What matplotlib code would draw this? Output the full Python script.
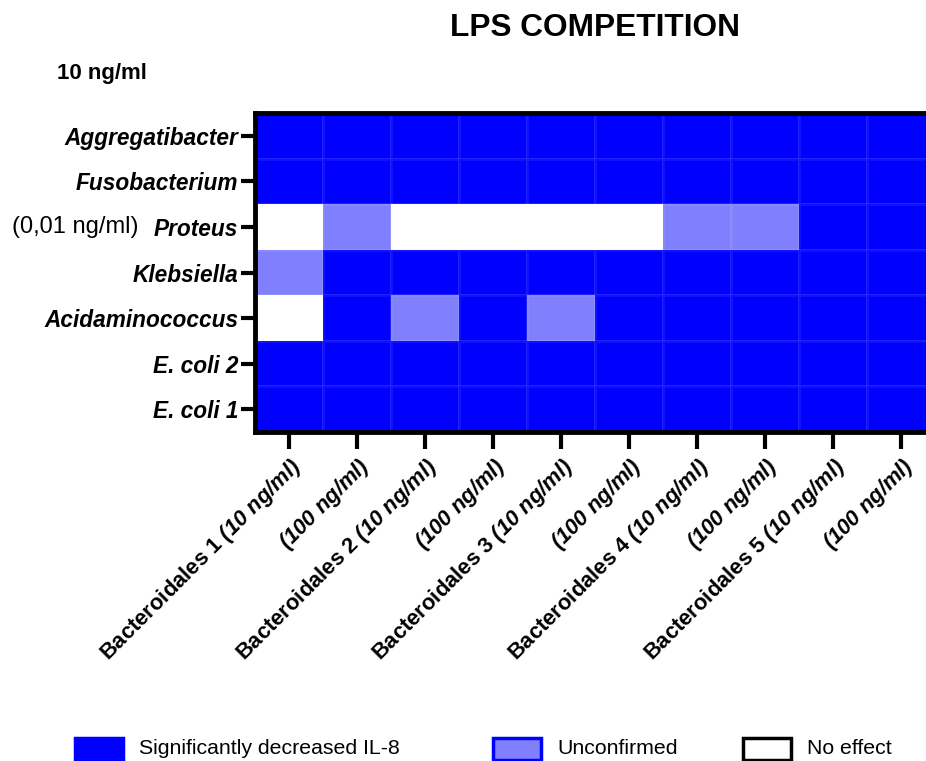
import matplotlib.pyplot as plt
import numpy as np
from matplotlib.colors import ListedColormap
from matplotlib.patches import Rectangle
from matplotlib.transforms import blended_transform_factory

plt.rcParams['font.family'] = ['Liberation Sans', 'DejaVu Sans']
plt.rcParams['mathtext.fontset'] = 'custom'
plt.rcParams['mathtext.bfit'] = 'Liberation Sans:italic:bold'
plt.rcParams['mathtext.it'] = 'Liberation Sans:italic'
plt.rcParams['mathtext.rm'] = 'Liberation Sans'

# LPS strains (rows, top to bottom)
strains = ["Aggregatibacter", "Fusobacterium", "Proteus", "Klebsiella",
           "Acidaminococcus", "E. coli 2", "E. coli 1"]

# competitor LPS (columns)
competitors = ["Bacteroidales 1", "", "Bacteroidales 2", "", "Bacteroidales 3", "",
               "Bacteroidales 4", "", "Bacteroidales 5", ""]
doses = ["10 ng/ml", "100 ng/ml"] * 5

# 2 = significantly decreased IL-8, 1 = unconfirmed, 0 = no effect
aggregatibacter = [2, 2, 2, 2, 2, 2, 2, 2, 2, 2]
fusobacterium   = [2, 2, 2, 2, 2, 2, 2, 2, 2, 2]
proteus         = [0, 1, 0, 0, 0, 0, 1, 1, 2, 2]
klebsiella      = [1, 2, 2, 2, 2, 2, 2, 2, 2, 2]
acidaminococcus = [0, 2, 1, 2, 1, 2, 2, 2, 2, 2]
ecoli2          = [2, 2, 2, 2, 2, 2, 2, 2, 2, 2]
ecoli1          = [2, 2, 2, 2, 2, 2, 2, 2, 2, 2]

effect = np.array([aggregatibacter, fusobacterium, proteus, klebsiella,
                   acidaminococcus, ecoli2, ecoli1])

legend_labels = ["Significantly decreased IL-8", "Unconfirmed", "No effect"]
colors = ["#ffffff", "#8080ff", "#0000ff"]
cmap = ListedColormap(colors)

fig = plt.figure(figsize=(9.26, 7.61), dpi=100)
ax = fig.add_axes([255 / 926, 1 - 432 / 761, 680 / 926, 319 / 761])

ax.pcolormesh(np.arange(effect.shape[1] + 1), np.arange(effect.shape[0] + 1),
              effect, cmap=cmap, vmin=-0.5, vmax=2.5,
              edgecolor=(1, 1, 1, 0.07), linewidth=0.8)
ax.set_xlim(0, effect.shape[1])
ax.set_ylim(effect.shape[0], 0)

# y axis: bold italic strain names
ax.set_yticks(np.arange(len(strains)) + 0.5)
ax.set_yticklabels(strains, fontsize=16.3, fontweight='bold', fontstyle='italic')
ax.tick_params(axis='y', length=10, width=3, pad=2)

# x axis: bold competitor name + bold italic dose
xlabels = []
for name, dose in zip(competitors, doses):
    d = r"$\mathbfit{(" + dose.replace(" ", r"\ ") + ")}$"
    xlabels.append(f"{name} {d}" if name else d)
ax.set_xticks(np.arange(len(competitors)) + 0.5)
ax.set_xticklabels(xlabels, fontsize=15.8, fontweight='bold', rotation=45,
                   ha='right', rotation_mode='anchor')
ax.tick_params(axis='x', length=12, width=3, pad=4)

for side in ['left', 'bottom', 'top']:
    ax.spines[side].set_linewidth(3.5)
ax.spines['right'].set_visible(False)

# Proteus was tested at a lower concentration
trans = blended_transform_factory(fig.transFigure, ax.transData)
ax.text(12 / 926, 2.5, "(0,01 ng/ml)", transform=trans, fontsize=17,
        ha='left', va='center')

fig.text(595 / 926, 1 - 28 / 761, "LPS COMPETITION", fontsize=22.8,
         fontweight='bold', ha='center', va='center')
fig.text(57 / 926, 1 - 73 / 761, "10 ng/ml", fontsize=16,
         fontweight='bold', ha='left', va='center')

# legend drawn by hand along the bottom
legend_x = [75, 493, 743]
legend_face = ["#0000ff", "#8080ff", "#ffffff"]
legend_edge = ["#0000ff", "#0000ff", "#000000"]
for x, label, fc, ec in zip(legend_x, legend_labels, legend_face, legend_edge):
    fig.patches.append(Rectangle((x / 926, 1 - 760 / 761), 48 / 926, 22 / 761,
                                 transform=fig.transFigure, facecolor=fc,
                                 edgecolor=ec, linewidth=2.5))
    fig.text((x + 64) / 926, 1 - 749 / 761, label, fontsize=15.3,
             ha='left', va='center')

fig.savefig("out.png", dpi=100)
